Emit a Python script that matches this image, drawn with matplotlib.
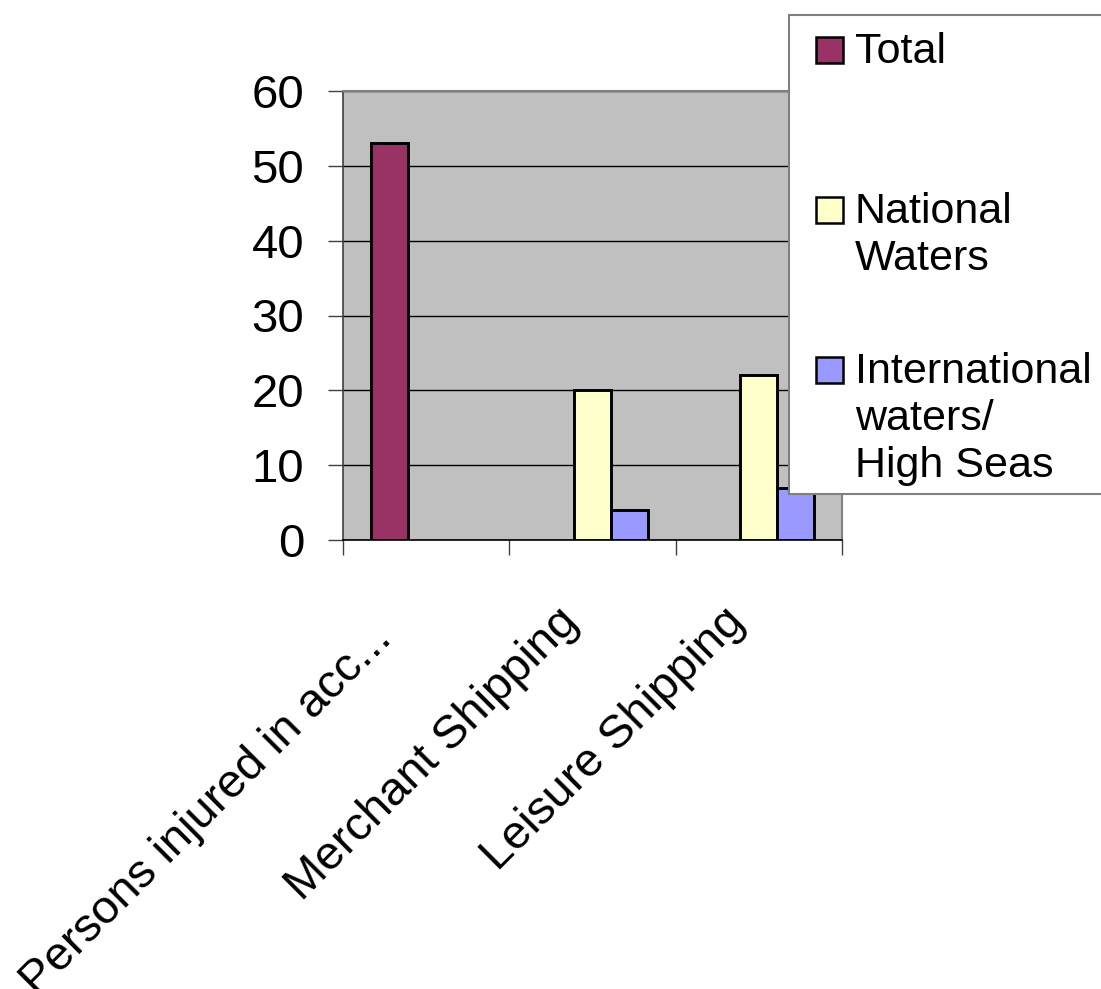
import numpy as np
import matplotlib
matplotlib.use("Agg")
import matplotlib.pyplot as plt
from matplotlib.patches import Rectangle

plt.rcParams["font.family"] = ["Liberation Sans", "DejaVu Sans"]

categories = ["Persons injured in acc...", "Merchant Shipping", "Leisure Shipping"]
series_names = ["Total", "National\nWaters", "International\nwaters/\nHigh Seas"]
total = [53, np.nan, np.nan]
national_waters = [np.nan, 20, 22]
international_waters = [np.nan, 4, 7]
colors = ["#993366", "#FFFFCC", "#9999FF"]
yticks = [0, 10, 20, 30, 40, 50, 60]

W, H = 1101, 989
fig = plt.figure(figsize=(W / 100, H / 100), dpi=100)

# plot area in pixel coordinates
left, right, top, bottom = 343, 842, 91, 540
ax = fig.add_axes([left / W, 1 - bottom / H, (right - left) / W, (bottom - top) / H])
ax.set_facecolor("#C0C0C0")

series = [total, national_waters, international_waters]
x = np.arange(len(categories))
w = 1 / 4.5
for j, vals in enumerate(series):
    ax.bar(x + (j - 1) * w, vals, width=w, color=colors[j],
           edgecolor="black", linewidth=2.1, zorder=3)

ax.set_xlim(-0.5, len(categories) - 0.5)
ax.set_ylim(0, 60)
ax.set_yticks(yticks)
ax.set_yticklabels([str(t) for t in yticks], fontsize=34)
ax.yaxis.grid(True, color="black", linewidth=1.0, zorder=1)
ax.set_axisbelow(True)
ax.tick_params(axis="y", length=11, width=1, color="#404040", pad=17)

ax.set_xticks(np.arange(len(categories) + 1) - 0.5)
ax.set_xticklabels([])
ax.tick_params(axis="x", length=11, width=1, color="#404040")

for s in ["top", "right"]:
    ax.spines[s].set_color("#808080")
    ax.spines[s].set_linewidth(1.5)
ax.spines["left"].set_color("#404040")
ax.spines["left"].set_linewidth(1.2)
ax.spines["bottom"].set_color("black")
ax.spines["bottom"].set_linewidth(1.2)

# rotated category labels, right end hung under each category
label_offsets = [(-41, -92), (-21, -75), (-21, -75)]
for i, lab in enumerate(categories):
    ax.annotate(lab, xy=(i, 0), xycoords=("data", "axes fraction"),
                xytext=label_offsets[i], textcoords="offset pixels",
                rotation=45, rotation_mode="anchor", ha="right", va="center",
                fontsize=34, annotation_clip=False)

# legend box
fig.patches.append(Rectangle((789 / W, 1 - 494 / H), (W - 789) / W + 0.01, (494 - 15) / H,
                             transform=fig.transFigure, facecolor="white",
                             edgecolor="#808080", linewidth=1.5, zorder=10))
key_tops = [37, 197, 357]
first_baselines = [63, 223, 383]
for j, name in enumerate(series_names):
    fig.patches.append(Rectangle((816 / W, 1 - (key_tops[j] + 26) / H), 27 / W, 26 / H,
                                 transform=fig.transFigure, facecolor=colors[j],
                                 edgecolor="black", linewidth=1.8, zorder=11))
    for k, line in enumerate(name.split("\n")):
        fig.text(855 / W, 1 - (first_baselines[j] + 47 * k) / H, line,
                 fontsize=31, va="baseline", ha="left", zorder=12)

fig.savefig("out.png", dpi=100)
